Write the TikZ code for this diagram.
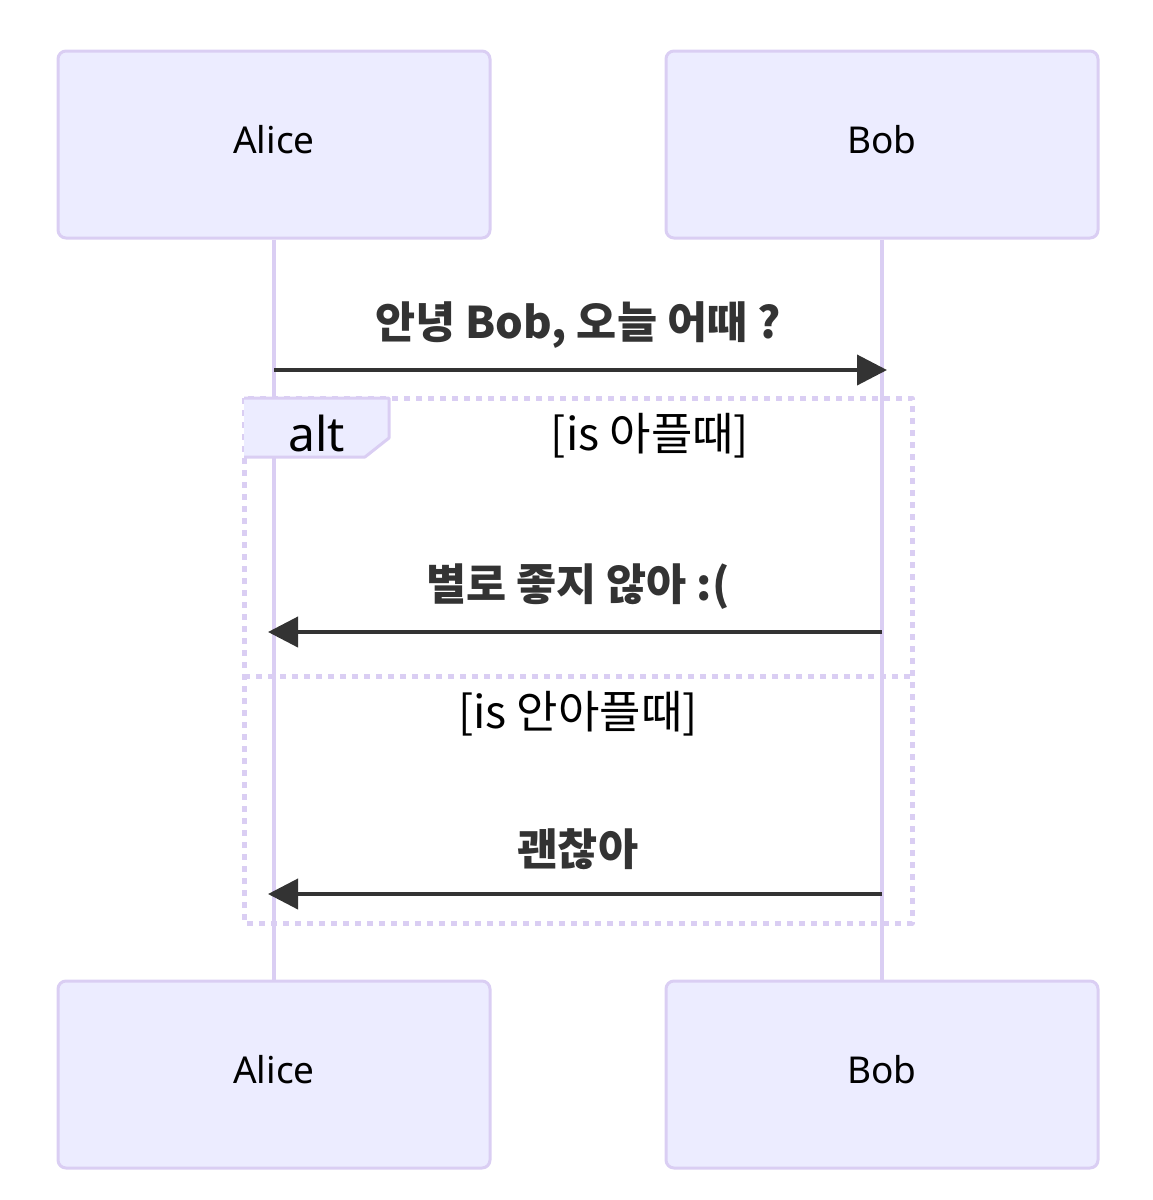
\documentclass[tikz,border=0pt]{standalone}
\usepackage{fontspec}
\setmainfont{Noto Sans}
\newfontfamily\kr{Noto Sans CJK KR}
\usetikzlibrary{arrows.meta}
\definecolor{actorfill}{HTML}{ECECFF}
\definecolor{lavender}{HTML}{DACEF3}
\definecolor{ink}{HTML}{333333}

\begin{document}
\begin{tikzpicture}[x=0.5pt,y=-0.5pt,line join=round,
  actor/.style={draw=lavender,fill=actorfill,line width=1.5pt,rounded corners=4pt,
    minimum width=216pt,minimum height=93.5pt,text height=13.5pt,text depth=5pt,
    font=\fontsize{18.5}{22}\selectfont},
  lifeline/.style={draw=lavender,line width=2pt},
  msg/.style={draw=ink,line width=2pt,-{Triangle[length=15pt,width=15pt]}},
  msgtext/.style={text=ink,font=\kr\bfseries\fontsize{21.8}{26}\selectfont},
  cond/.style={font=\kr\fontsize{22.5}{26}\selectfont},
  frame/.style={draw=lavender,line width=2.5pt,dash pattern=on 3pt off 3pt}]
  \useasboundingbox (0,0) rectangle (1152,1200);
  % actors
  \node[actor] (aliceTop) at (274,144.5) {Alice};
  \node[actor] (bobTop) at (882,144.5) {Bob};
  \node[actor] (aliceBot) at (274,1074.5) {Alice};
  \node[actor] (bobBot) at (882,1074.5) {Bob};
  \draw[lifeline] (aliceTop.south) -- (aliceBot.north);
  \draw[lifeline] (bobTop.south) -- (bobBot.north);
  % alt frame
  \draw[frame] (244,398) rectangle (912,923);
  \draw[frame] (244,676) -- (912,676);
  \fill[actorfill] (244,398) -- (389,398) -- (389,438) -- (365,457) -- (244,457) -- cycle;
  \draw[lavender,line width=1.5pt] (244,398) -- (389,398) -- (389,438) -- (365,457) -- (244,457);
  \node[font=\fontsize{24}{28}\selectfont] (altTag) at (317,433) {alt};
  \node[cond] (cond1) at (650,436) {[is 아플때]};
  \node[cond] (cond2) at (578,714) {[is 안아플때]};
  % messages
  \coordinate (a1) at (274,370);
  \coordinate (b1) at (882,370);
  \coordinate (a2) at (274,632);
  \coordinate (b2) at (882,632);
  \coordinate (a3) at (274,894);
  \coordinate (b3) at (882,894);
  \draw[msg,shorten >=-2.5pt] (a1) -- (b1);
  \draw[msg,shorten >=-3pt] (b2) -- (a2);
  \draw[msg,shorten >=-3pt] (b3) -- (a3);
  \node[msgtext] (m1) at (578,325) {안녕 Bob, 오늘 어때 ?};
  \node[msgtext] (m2) at (578,587) {별로 좋지 않아 :(};
  \node[msgtext] (m3) at (578,849) {괜찮아};
\end{tikzpicture}
\end{document}
